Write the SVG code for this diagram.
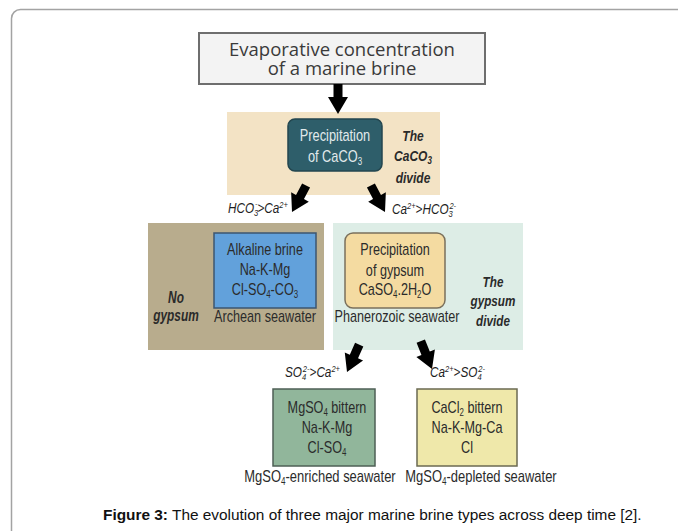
<svg xmlns="http://www.w3.org/2000/svg" width="678" height="531" viewBox="0 0 678 531">
<style>
.t{font-family:"Liberation Sans",Arial,sans-serif;fill:#2b2b2b;text-anchor:middle;font-size:16px}
.w{fill:#e2eaec}
.it{font-family:"Liberation Sans",Arial,sans-serif;fill:#1e1e1e;font-style:italic;font-size:14px}
.bi{font-family:"Liberation Sans",Arial,sans-serif;fill:#2a2a2a;font-style:italic;font-weight:bold;font-size:15px;text-anchor:middle}
.title{font-family:"Open Sans","Liberation Sans",sans-serif;fill:#3a3a3a;font-size:18.5px;font-weight:500;text-anchor:middle}
.cap{font-family:"Liberation Sans",Arial,sans-serif;fill:#111;font-size:15.4px}
.box{stroke-width:1.5}
</style>
<defs>
<polygon id="arr" points="-4.5,-30 4.5,-30 4.5,-17 10,-17 0,0 -10,-17 -4.5,-17" fill="#000"/>
</defs>
<rect x="11.5" y="9.5" width="700" height="560" rx="9" fill="#fff" stroke="#a3a3a3" stroke-width="1.5"/>

<g id="title">
<rect x="199" y="33" width="286" height="51" fill="#f3f3f3" stroke="#6e6e6e" stroke-width="2"/>
<text class="title" x="342" y="56">Evaporative concentration</text>
<text class="title" x="342" y="75">of a marine brine</text>
</g>

<g id="caco3-divide">
<rect x="227" y="112" width="213" height="83" fill="#f3e3c5"/>
<text class="bi" transform="translate(413,141) scale(0.8,1)">The</text>
<text class="bi" transform="translate(413,161) scale(0.8,1)">CaCO<tspan dy="3" font-size="10">3</tspan></text>
<text class="bi" transform="translate(413,183) scale(0.8,1)">divide</text>
</g>
<g id="caco3">
<rect x="288" y="119" width="94" height="52" rx="7" fill="#2e5e6a" stroke="#23464f" stroke-width="1.5"/>
<text class="t w" transform="translate(335,141) scale(0.8,1)">Precipitation</text>
<text class="t w" transform="translate(335,162) scale(0.8,1)">of CaCO<tspan dy="3" font-size="10">3</tspan></text>
</g>

<g id="no-gypsum">
<rect x="148" y="223" width="176" height="127" fill="#b8ac8d"/>
<text class="bi" style="font-size:16.5px" transform="translate(176,303) scale(0.72,1)">No</text>
<text class="bi" style="font-size:16.5px" transform="translate(176,321) scale(0.72,1)">gypsum</text>
</g>
<g id="alkaline">
<rect x="214" y="233" width="102" height="75" fill="#62a1db" stroke="#3c5670" class="box"/>
<text class="t" transform="translate(265,255) scale(0.79,1)">Alkaline brine</text>
<text class="t" transform="translate(265,275) scale(0.79,1)">Na-K-Mg</text>
<text class="t" transform="translate(265,295) scale(0.79,1)">Cl-SO<tspan dy="3" font-size="10">4</tspan><tspan dy="-3">-CO</tspan><tspan dy="3" font-size="10">3</tspan></text>
<text class="t" transform="translate(265,322) scale(0.79,1)">Archean seawater</text>
</g>

<g id="gypsum-divide">
<rect x="333" y="223" width="190" height="127" fill="#ddede6"/>
<text class="bi" transform="translate(493,287) scale(0.78,1)">The</text>
<text class="bi" transform="translate(493,306) scale(0.78,1)">gypsum</text>
<text class="bi" transform="translate(493,326) scale(0.78,1)">divide</text>
</g>
<g id="gypsum">
<rect x="345" y="233" width="100" height="75" rx="8" fill="#f4dba1" stroke="#7a705c" class="box"/>
<text class="t" transform="translate(395,255) scale(0.79,1)">Precipitation</text>
<text class="t" transform="translate(395,276) scale(0.79,1)">of gypsum</text>
<text class="t" transform="translate(395,295) scale(0.79,1)">CaSO<tspan dy="3" font-size="10">4</tspan><tspan dy="-3">.2H</tspan><tspan dy="3" font-size="10">2</tspan><tspan dy="-3">O</tspan></text>
<text class="t" transform="translate(397,322) scale(0.79,1)">Phanerozoic seawater</text>
</g>

<g id="mgso4-bittern">
<rect x="273" y="389" width="102" height="77" fill="#91b69b" stroke="#4e5f55" class="box"/>
<text class="t" transform="translate(327,413) scale(0.79,1)">MgSO<tspan dy="3" font-size="10">4</tspan><tspan dy="-3"> bittern</tspan></text>
<text class="t" transform="translate(327,433) scale(0.79,1)">Na-K-Mg</text>
<text class="t" transform="translate(327,453) scale(0.79,1)">Cl-SO<tspan dy="3" font-size="10">4</tspan></text>
<text class="t" transform="translate(320,482) scale(0.81,1)">MgSO<tspan dy="3" font-size="10">4</tspan><tspan dy="-3">-enriched seawater</tspan></text>
</g>

<g id="cacl2-bittern">
<rect x="417" y="389" width="100" height="77" fill="#efe8aa" stroke="#6b6a52" class="box"/>
<text class="t" transform="translate(467,413) scale(0.79,1)">CaCl<tspan dy="3" font-size="10">2</tspan><tspan dy="-3"> bittern</tspan></text>
<text class="t" transform="translate(467,433) scale(0.79,1)">Na-K-Mg-Ca</text>
<text class="t" transform="translate(467,453) scale(0.79,1)">Cl</text>
<text class="t" transform="translate(481,482) scale(0.81,1)">MgSO<tspan dy="3" font-size="10">4</tspan><tspan dy="-3">-depleted seawater</tspan></text>
</g>

<g id="connectors">
<use href="#arr" transform="translate(338,114)"/>
<use href="#arr" transform="translate(292,212) rotate(28)"/>
<use href="#arr" transform="translate(385,212) rotate(-28)"/>
<use href="#arr" transform="translate(347,372) rotate(24)"/>
<use href="#arr" transform="translate(432,369) rotate(-22)"/>
<text class="it" transform="translate(228,213) scale(0.84,1)">HCO<tspan dy="3" font-size="9">3</tspan><tspan dy="-9" dx="-4" font-size="9">-</tspan><tspan dy="6">&gt;Ca</tspan><tspan dy="-5" font-size="9">2+</tspan></text>
<text class="it" transform="translate(392,214) scale(0.84,1)">Ca<tspan dy="-5" font-size="9">2+</tspan><tspan dy="5">&gt;HCO</tspan><tspan dy="3" font-size="9">3</tspan><tspan dy="-8" dx="-4" font-size="9">2-</tspan></text>
<text class="it" transform="translate(285,377) scale(0.84,1)">SO<tspan dy="3" font-size="9">4</tspan><tspan dy="-8" dx="-4" font-size="9">2-</tspan><tspan dy="5">&gt;Ca</tspan><tspan dy="-5" font-size="9">2+</tspan></text>
<text class="it" transform="translate(430,377) scale(0.84,1)">Ca<tspan dy="-5" font-size="9">2+</tspan><tspan dy="5">&gt;SO</tspan><tspan dy="3" font-size="9">4</tspan><tspan dy="-8" dx="-4" font-size="9">2-</tspan></text>
</g>

<text class="cap" x="103" y="520"><tspan font-weight="bold">Figure 3:</tspan> The evolution of three major marine brine types across deep time [2].</text>
</svg>
